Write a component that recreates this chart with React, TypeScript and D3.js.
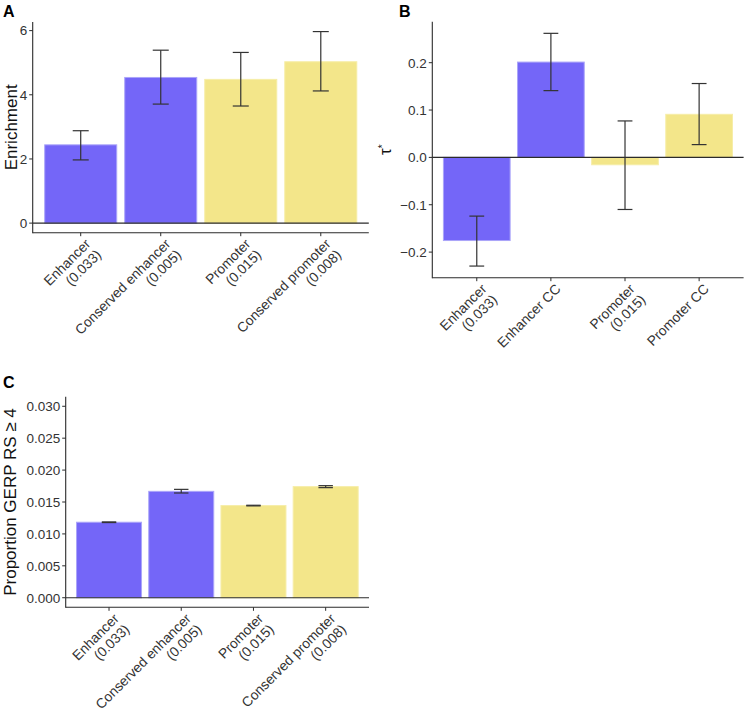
import React from "react";
import * as d3 from "d3";

// ---------- DATA ----------
const categoriesA = ["Enhancer\n(0.033)", "Conserved enhancer\n(0.005)", "Promoter\n(0.015)", "Conserved promoter\n(0.008)"];
const enrichment = [2.44, 4.54, 4.48, 5.03];
const enrichmentLow = [1.97, 3.71, 3.65, 4.12];
const enrichmentHigh = [2.88, 5.39, 5.32, 5.97];
const ticksA = [0, 2, 4, 6];

const categoriesB = ["Enhancer\n(0.033)", "Enhancer CC", "Promoter\n(0.015)", "Promoter CC"];
const tauStar = [-0.1756, 0.2013, -0.0156, 0.091];
const tauLow = [-0.2295, 0.141, -0.11, 0.027];
const tauHigh = [-0.124, 0.262, 0.077, 0.156];
const ticksB = [-0.2, -0.1, 0.0, 0.1, 0.2];

const categoriesC = ["Enhancer\n(0.033)", "Conserved enhancer\n(0.005)", "Promoter\n(0.015)", "Conserved promoter\n(0.008)"];
const gerpProp = [0.01183, 0.01667, 0.01444, 0.01741];
const gerpLow = [0.01178, 0.01641, 0.01439, 0.01725];
const gerpHigh = [0.01188, 0.01698, 0.01449, 0.01756];
const ticksC = [0, 0.005, 0.01, 0.015, 0.02, 0.025, 0.03];
const limitsC = [0, 0.03];

const groups = ["enhancer", "enhancer", "promoter", "promoter"];
const fillColors: Record<string, string> = { enhancer: "#7466F8", promoter: "#F3E68A" };
const strokeColors: Record<string, string> = { enhancer: "#ABA5F9", promoter: "#F6EDA8" };

const FONT = "'Liberation Sans', Arial, Helvetica, sans-serif";
const INK = "#2b2b2b";

type PanelProps = {
  cats: string[];
  values: number[];
  low: number[];
  high: number[];
  ticks: number[];
  fmt: (v: number) => string;
  limits: [number, number];
  x0: number; x1: number; y0: number; y1: number;
  letter: string; letterX: number; letterY: number;
  title: React.ReactNode; titleX: number;
};

function pad(lim: [number, number]): [number, number] {
  const r = lim[1] - lim[0];
  return [lim[0] - 0.05 * r, lim[1] + 0.05 * r];
}

function Panel(p: PanelProps) {
  const x = d3.scalePoint<string>().domain(p.cats).range([p.x0, p.x1]).padding(0.6);
  const y = d3.scaleLinear().domain(pad(p.limits)).range([p.y1, p.y0]);
  const step = x.step();
  const bw = step * 0.9;
  const cw = step * 0.2;
  const tickLen = 3.5;
  const fs = 13.5;
  const xfs = 13.8;
  return (
    <g>
      {/* bars */}
      {p.cats.map((c, i) => {
        const cx = x(c)!;
        const yv = y(p.values[i]);
        const yz = y(0);
        return (
          <rect key={"b" + i} x={cx - bw / 2} y={Math.min(yv, yz)} width={bw} height={Math.abs(yz - yv)}
            fill={fillColors[groups[i]]} stroke={strokeColors[groups[i]]} strokeWidth={1} />
        );
      })}
      {/* zero line */}
      <line x1={p.x0} x2={p.x1} y1={y(0)} y2={y(0)} stroke={INK} strokeWidth={1.1} />
      {/* error bars */}
      {p.cats.map((c, i) => {
        const cx = x(c)!;
        const yl = y(p.low[i]);
        const yh = y(p.high[i]);
        return (
          <g key={"e" + i} stroke="#333" strokeWidth={1.2} fill="none">
            <line x1={cx} x2={cx} y1={yl} y2={yh} />
            <line x1={cx - cw / 2} x2={cx + cw / 2} y1={yl} y2={yl} />
            <line x1={cx - cw / 2} x2={cx + cw / 2} y1={yh} y2={yh} />
          </g>
        );
      })}
      {/* axes */}
      <line x1={p.x0} x2={p.x0} y1={p.y0} y2={p.y1 + 0.5} stroke={INK} strokeWidth={1.1} />
      <line x1={p.x0} x2={p.x1} y1={p.y1} y2={p.y1} stroke={INK} strokeWidth={1.1} />
      {p.ticks.map((t, i) => (
        <g key={"yt" + i}>
          <line x1={p.x0 - tickLen} x2={p.x0} y1={y(t)} y2={y(t)} stroke={INK} strokeWidth={1} />
          <text x={p.x0 - tickLen - 2} y={y(t)} dy="0.36em" textAnchor="end" fontSize={fs} fill="#333" fontFamily={FONT}>
            {p.fmt(t)}
          </text>
        </g>
      ))}
      {p.cats.map((c, i) => {
        const cx = x(c)!;
        const lines = c.split("\n");
        return (
          <g key={"xt" + i}>
            <line x1={cx} x2={cx} y1={p.y1} y2={p.y1 + tickLen} stroke={INK} strokeWidth={1} />
            <g transform={`translate(${cx + 3},${p.y1 + tickLen + 1}) rotate(-45)`}>
              <text textAnchor="end" fontSize={xfs} fill="#333" fontFamily={FONT}>
                {lines.map((l, j) => (
                  <tspan key={j} x={0} y={xfs * 0.78 + j * xfs * 1.1}>{l}</tspan>
                ))}
              </text>
            </g>
          </g>
        );
      })}
      {/* y title */}
      <g transform={`translate(${p.titleX},${(p.y0 + p.y1) / 2}) rotate(-90)`}>
        <text textAnchor="middle" fontSize={17} fill="#111" fontFamily={FONT}>{p.title}</text>
      </g>
      {/* panel letter */}
      <text x={p.letterX} y={p.letterY} fontSize={16} fontWeight="bold" fill="#000" fontFamily={FONT}>{p.letter}</text>
    </g>
  );
}

function extentWithZero(lo: number[], hi: number[]): [number, number] {
  return [Math.min(0, d3.min(lo)!), Math.max(0, d3.max(hi)!)];
}

export default function App() {
  return (
    <div style={{ position: "absolute", left: 0, top: 0 }}>
      <svg width={747} height={714} style={{ display: "block", background: "#fff" }}>
        <Panel cats={categoriesA} values={enrichment} low={enrichmentLow} high={enrichmentHigh}
          ticks={ticksA} fmt={(v) => d3.format("d")(v)} limits={extentWithZero(enrichmentLow, enrichmentHigh)}
          x0={32.7} x1={368.8} y0={22} y1={232.7}
          letter="A" letterX={3} letterY={16.5} title="Enrichment" titleX={17} />
        <Panel cats={categoriesB} values={tauStar} low={tauLow} high={tauHigh}
          ticks={ticksB} fmt={(v) => d3.format(".1f")(v)} limits={extentWithZero(tauLow, tauHigh)}
          x0={432.3} x1={743.6} y0={21.7} y1={277.7}
          letter="B" letterX={399} letterY={16.5}
          title={<><tspan>τ</tspan><tspan dy="-0.55em" fontSize={10}>*</tspan></>} titleX={391} />
        <Panel cats={categoriesC} values={gerpProp} low={gerpLow} high={gerpHigh}
          ticks={ticksC} fmt={(v) => d3.format(".3f")(v)} limits={[limitsC[0], limitsC[1]]}
          x0={65.7} x1={369} y0={396.7} y1={607.3}
          letter="C" letterX={3} letterY={388} title="Proportion GERP RS ≥ 4" titleX={16} />
      </svg>
    </div>
  );
}
